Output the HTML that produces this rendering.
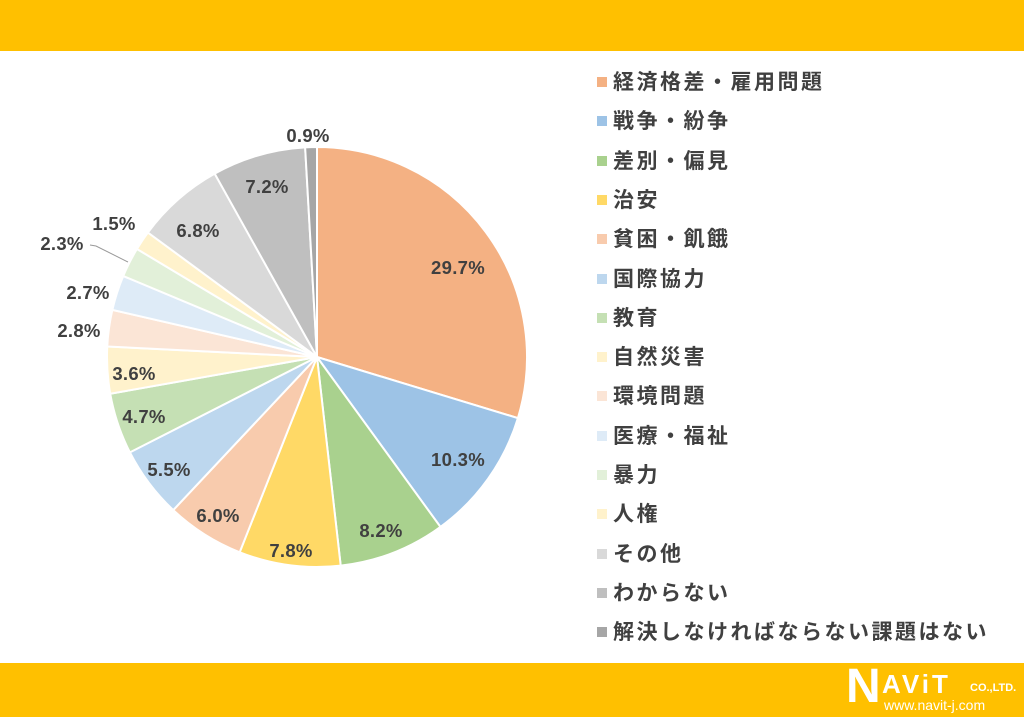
<!DOCTYPE html>
<html><head><meta charset="utf-8"><style>
html,body{margin:0;padding:0;background:#fff;}
body{width:1024px;height:717px;position:relative;overflow:hidden;font-family:"Liberation Sans","Noto Sans CJK JP",sans-serif;}
.bar{position:absolute;left:0;width:1024px;background:#FFC000;}
.lg{position:absolute;left:597px;font-size:21px;font-weight:bold;letter-spacing:2.5px;color:#404040;line-height:24px;white-space:nowrap;}
.lg span{display:inline-block;width:10px;height:10px;margin-right:6px;vertical-align:2px;}
.pl{font-family:"Liberation Sans",sans-serif;font-weight:bold;font-size:18.5px;letter-spacing:0.3px;fill:#404040;text-anchor:middle;}
</style></head><body>
<div class="bar" style="top:0;height:51px"></div>
<div class="bar" style="top:663px;height:54px"></div>
<svg id="pie" width="1024" height="717" style="position:absolute;left:0;top:0"></svg>
<div id="leg"></div>
<div style="position:absolute;left:846px;top:665px;color:#fff;font-family:'Liberation Sans',sans-serif;font-weight:bold;">
<span style="font-size:48px;position:absolute;left:0;top:-6px;">N</span>
<span style="font-size:26px;position:absolute;left:36px;top:4px;letter-spacing:3px">AViT</span>
<span style="font-size:11px;position:absolute;left:124px;top:17px;white-space:nowrap">CO.,LTD.</span>
<span style="font-size:14px;position:absolute;left:38px;top:32px;font-weight:normal;white-space:nowrap">www.navit-j.com</span>
</div>
<script>
var v=[29.7,10.3,8.2,7.8,6.0,5.5,4.7,3.6,2.8,2.7,2.3,1.5,6.8,7.2,0.9];
var c=["#F4B183","#9DC3E6","#A9D18E","#FFD966","#F8CBAD","#BDD7EE","#C5E0B4","#FFF2CC","#FBE5D6","#DEEBF7","#E2F0D9","#FFF2CC","#D9D9D9","#BFBFBF","#A6A6A6"];
var n=["経済格差・雇用問題","戦争・紛争","差別・偏見","治安","貧困・飢餓","国際協力","教育","自然災害","環境問題","医療・福祉","暴力","人権","その他","わからない","解決しなければならない課題はない"];
var cx=317,cy=357,r=210,a=0,s="";
for(var i=0;i<v.length;i++){var a2=a+v[i]/100*2*Math.PI;
var x1=cx+r*Math.sin(a),y1=cy-r*Math.cos(a),x2=cx+r*Math.sin(a2),y2=cy-r*Math.cos(a2);
s+='<path d="M'+cx+','+cy+'L'+x1+','+y1+'A'+r+','+r+' 0 '+(a2-a>Math.PI?1:0)+',1 '+x2+','+y2+'Z" fill="'+c[i]+'" stroke="#fff" stroke-width="2"/>';a=a2;}
var L=[[458,262,"29.7%"],[458,454,"10.3%"],[381,525,"8.2%"],[291,545,"7.8%"],[218,510,"6.0%"],[169,464,"5.5%"],[144,411,"4.7%"],[134,368,"3.6%"],[79,325,"2.8%"],[88,287,"2.7%"],[62,238,"2.3%"],[114,218,"1.5%"],[198,225,"6.8%"],[267,181,"7.2%"],[308,130,"0.9%"]];
L.forEach(function(l){s+='<text class="pl" x="'+l[0]+'" y="'+(l[1]+12)+'">'+l[2]+'</text>';});
s+='<polyline points="90,245 96,246 128,262" fill="none" stroke="#999" stroke-width="1"/>';
document.getElementById('pie').innerHTML=s;
var h="";for(var i=0;i<15;i++){h+='<div class="lg" style="top:'+(71+i*39.3)+'px"><span style="background:'+c[i]+'"></span>'+n[i]+'</div>';}
document.getElementById('leg').innerHTML=h;
</script>
</body></html>
